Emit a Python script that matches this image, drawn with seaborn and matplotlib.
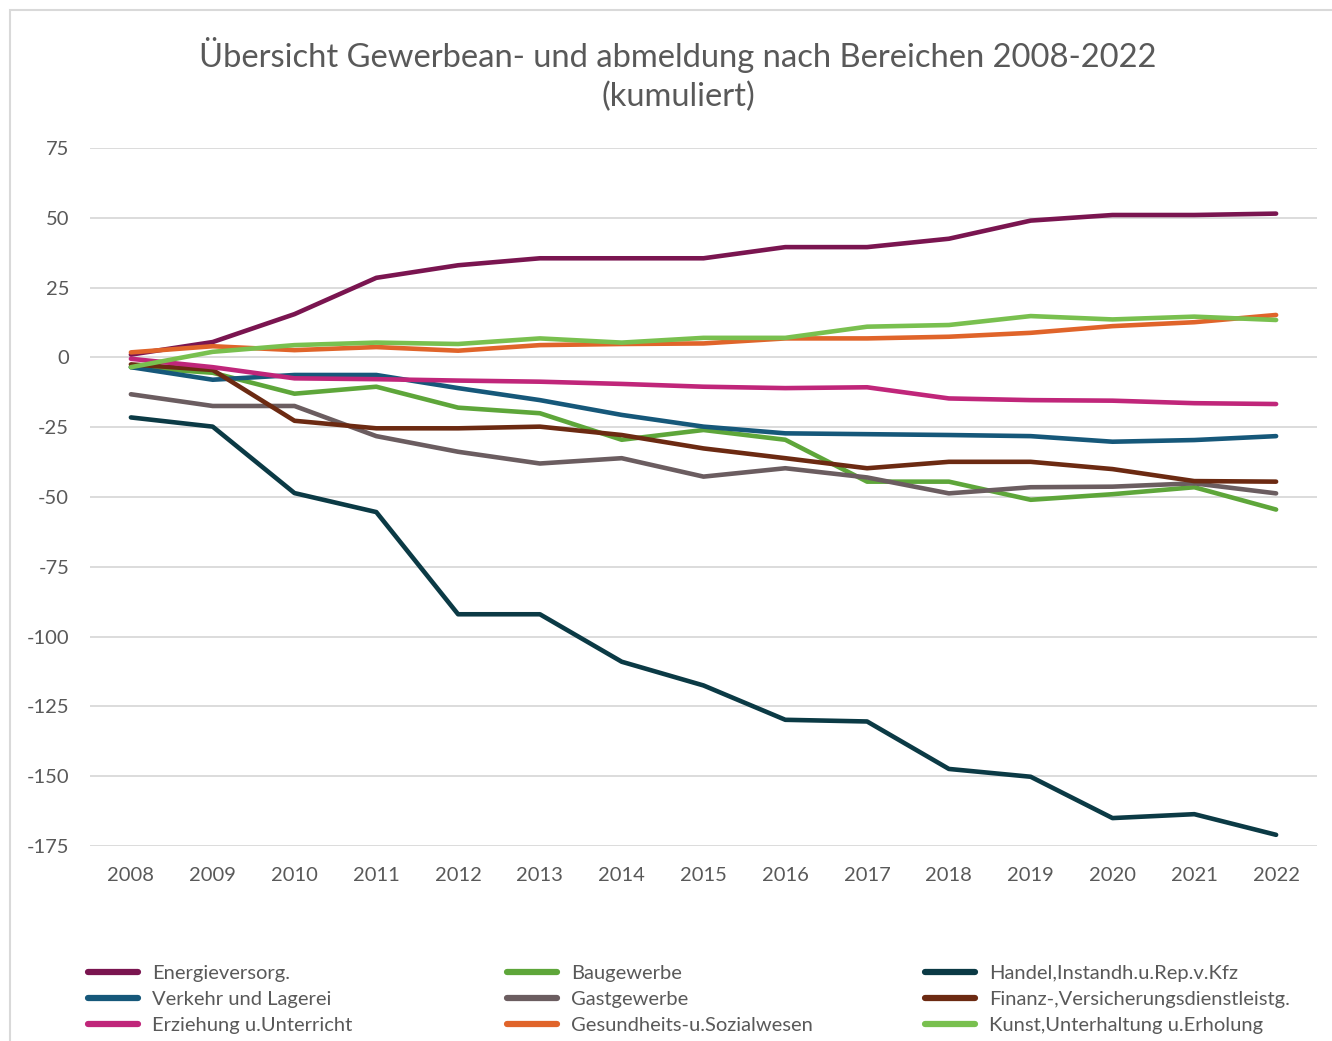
import pandas as pd
import matplotlib.pyplot as plt
import seaborn as sns
from matplotlib.patches import Rectangle

# years on the x axis
years = list(range(2008, 2023))

# cumulated values per sector
energie = [1, 5.5, 15.5, 28.5, 33, 35.5, 35.5, 35.5, 39.5, 39.5, 42.5, 49, 51, 51, 51.5]
baugewerbe = [-3.5, -5.5, -13, -10.5, -18, -20, -29.5, -26, -29.5, -44.5, -44.5, -51, -49, -46.5, -54.5]
handel = [-21.5, -24.8, -48.6, -55.4, -92, -92, -109, -117.5, -129.8, -130.4, -147.4, -150.2, -165, -163.6, -171]
verkehr = [-3.5, -8, -6.3, -6.3, -11, -15.3, -20.6, -24.8, -27.2, -27.5, -27.8, -28.2, -30.2, -29.6, -28.2]
gastgewerbe = [-13.2, -17.4, -17.4, -28.2, -33.8, -38, -36.1, -42.7, -39.7, -43, -48.7, -46.5, -46.3, -45.1, -48.7]
finanz = [-2.5, -4.5, -22.7, -25.4, -25.4, -24.8, -27.8, -32.6, -36.1, -39.7, -37.4, -37.4, -40, -44.3, -44.5]
erziehung = [-0.5, -3.5, -7.5, -7.8, -8.3, -8.7, -9.5, -10.5, -11, -10.7, -14.7, -15.3, -15.5, -16.4, -16.7]
gesundheit = [1.8, 4, 2.6, 3.7, 2.4, 4.4, 4.8, 5, 6.8, 6.8, 7.4, 8.8, 11.2, 12.6, 15.2]
kunst = [-3.5, 2, 4.4, 5.3, 4.8, 6.8, 5.3, 7, 7, 11, 11.6, 14.8, 13.6, 14.6, 13.4]

names = ['Energieversorg.', 'Baugewerbe', 'Handel,Instandh.u.Rep.v.Kfz',
         'Verkehr und Lagerei', 'Gastgewerbe', 'Finanz-,Versicherungsdienstleistg.',
         'Erziehung u.Unterricht', 'Gesundheits-u.Sozialwesen', 'Kunst,Unterhaltung u.Erholung']
series = [energie, baugewerbe, handel, verkehr, gastgewerbe, finanz, erziehung, gesundheit, kunst]
colors = ['#7a1550', '#5ea63a', '#0b3a45', '#16587a', '#6b5d60', '#6c2a12', '#c0267a', '#e0642a', '#79c04f']

# long format table for seaborn
df = pd.DataFrame({
    'Jahr': years * len(names),
    'Wert': [v for s in series for v in s],
    'Bereich': [n for n in names for _ in years],
})

sns.set_style('white')
plt.rcParams['font.family'] = ['Lato', 'DejaVu Sans']
plt.rcParams['axes.unicode_minus'] = False

fig = plt.figure(figsize=(13.32, 10.41), dpi=100)
ax = fig.add_axes([90 / 1332, 1 - 846 / 1041, (1317 - 90) / 1332, (846 - 148) / 1041])

sns.lineplot(data=df, x='Jahr', y='Wert', hue='Bereich', hue_order=names,
             palette=dict(zip(names, colors)), linewidth=3.3, ax=ax, legend=False)

ax.set_xlim(2007.5, 2022.5)
ax.set_ylim(-175, 75)
ax.set_yticks(range(-175, 76, 25))
ax.set_xticks(years)
ax.grid(axis='y', color='#d9d9d9', linewidth=1.3)
ax.set_axisbelow(True)
for s in ax.spines.values():
    s.set_visible(False)
ax.tick_params(axis='both', length=0, labelsize=14.5, labelcolor='#595959')
ax.tick_params(axis='y', pad=15)
ax.tick_params(axis='x', pad=15)
ax.set_xlabel('')
ax.set_ylabel('')

fig.text(678 / 1332, 1 - 55 / 1041, 'Übersicht Gewerbean- und abmeldung nach Bereichen 2008-2022',
         ha='center', va='center', fontsize=23.6, color='#595959')
fig.text(678 / 1332, 1 - 97 / 1041, '(kumuliert)',
         ha='center', va='center', fontsize=23.6, color='#595959')

# legend, one block per column like the original (row by row order)
col_x = [88, 507, 925]
for c in range(3):
    idx = [c, c + 3, c + 6]
    hs = [plt.Line2D([], [], color=colors[i], linewidth=4.5) for i in idx]
    leg = fig.legend(hs, [names[i] for i in idx], loc='upper left',
                     bbox_to_anchor=(col_x[c] / 1332, 1 - 965 / 1041),
                     frameon=False, fontsize=14.5, handlelength=2.5, handletextpad=0.7,
                     labelspacing=0.45, borderaxespad=0, borderpad=0)
    for t in leg.get_texts():
        t.set_color('#595959')

# light frame around the chart
fig.patches.append(Rectangle((10 / 1332, -0.05), 1.2, 1 - 10 / 1041 + 0.05,
                             transform=fig.transFigure, fill=False,
                             edgecolor='#d9d9d9', linewidth=1.5))

fig.savefig('out.png', dpi=100, facecolor='white')
